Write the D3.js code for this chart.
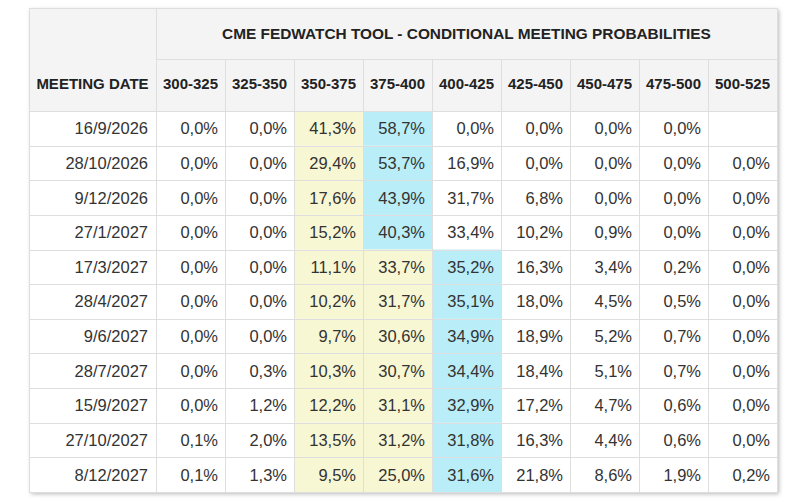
<!DOCTYPE html>
<html>
<head>
<meta charset="utf-8">
<script src="https://cdn.jsdelivr.net/npm/d3@7"></script>
<style>
  body { margin: 0; background: #fff; }
  svg { display: block; font-family: "Liberation Sans", Arial, sans-serif; }
</style>
</head>
<body>
<div id="chart"></div>
<script>
var title = "CME FEDWATCH TOOL - CONDITIONAL MEETING PROBABILITIES";
var firstHeader = "MEETING DATE";
var ranges = ["300-325", "325-350", "350-375", "375-400", "400-425", "425-450", "450-475", "475-500", "500-525"];
var dates = ["16/9/2026", "28/10/2026", "9/12/2026", "27/1/2027", "17/3/2027", "28/4/2027",
  "9/6/2027", "28/7/2027", "15/9/2027", "27/10/2027", "8/12/2027"];

// probabilities in %, one array per meeting, same order as ranges
var p_16_9_2026   = [0.0, 0.0, 41.3, 58.7, 0.0, 0.0, 0.0, 0.0, null];
var p_28_10_2026  = [0.0, 0.0, 29.4, 53.7, 16.9, 0.0, 0.0, 0.0, 0.0];
var p_9_12_2026   = [0.0, 0.0, 17.6, 43.9, 31.7, 6.8, 0.0, 0.0, 0.0];
var p_27_1_2027   = [0.0, 0.0, 15.2, 40.3, 33.4, 10.2, 0.9, 0.0, 0.0];
var p_17_3_2027   = [0.0, 0.0, 11.1, 33.7, 35.2, 16.3, 3.4, 0.2, 0.0];
var p_28_4_2027   = [0.0, 0.0, 10.2, 31.7, 35.1, 18.0, 4.5, 0.5, 0.0];
var p_9_6_2027    = [0.0, 0.0, 9.7, 30.6, 34.9, 18.9, 5.2, 0.7, 0.0];
var p_28_7_2027   = [0.0, 0.3, 10.3, 30.7, 34.4, 18.4, 5.1, 0.7, 0.0];
var p_15_9_2027   = [0.0, 1.2, 12.2, 31.1, 32.9, 17.2, 4.7, 0.6, 0.0];
var p_27_10_2027  = [0.1, 2.0, 13.5, 31.2, 31.8, 16.3, 4.4, 0.6, 0.0];
var p_8_12_2027   = [0.1, 1.3, 9.5, 25.0, 31.6, 21.8, 8.6, 1.9, 0.2];

var values = [p_16_9_2026, p_28_10_2026, p_9_12_2026, p_27_1_2027, p_17_3_2027, p_28_4_2027,
  p_9_6_2027, p_28_7_2027, p_15_9_2027, p_27_10_2027, p_8_12_2027];

// current target range (highlighted up to the most likely range)
var currentRange = "350-375";

window.onload = function()
{
	DrawTable();
}

function DrawTable()
{
	var width = 800, height = 503;
	var left = 29, right = 777, top = 8;
	var dateColRight = 156;
	var titleBottom = 59, headerBottom = 111, bottom = 492;

	var borderColor = "#dedede";
	var headBg = "#f4f4f4";
	var yellow = "#f8f7d3";
	var blue = "#b9eef8";
	var titleSize = "15.4px";
	var headSize = "15px";
	var cellSize = "16.5px";

	var x = d3.scaleBand().domain(ranges).range([dateColRight, right]);
	var y = d3.scaleBand().domain(dates).range([headerBottom, bottom]);

	var svg = d3.select("#chart").append("svg")
		.attr("width", width)
		.attr("height", height);

	var defs = svg.append("defs");
	var filter = defs.append("filter").attr("id", "shadow")
		.attr("x", "-5%").attr("y", "-5%").attr("width", "110%").attr("height", "110%");
	filter.append("feDropShadow")
		.attr("dx", 2).attr("dy", 2).attr("stdDeviation", 2)
		.attr("flood-color", "#000").attr("flood-opacity", 0.28);

	/* table background with shadow */
	svg.append("rect")
		.attr("x", left).attr("y", top)
		.attr("width", right - left).attr("height", bottom - top)
		.attr("fill", "#fff")
		.attr("filter", "url(#shadow)");

	/* header backgrounds */
	svg.append("rect")
		.attr("x", left).attr("y", top)
		.attr("width", right - left).attr("height", headerBottom - top)
		.attr("fill", headBg);

	/* cells */
	var curIdx = ranges.indexOf(currentRange);
	var rows = svg.append("g").attr("class", "rows")
		.selectAll("g")
		.data(dates).enter()
		.append("g");

	rows.each(function(d, i)
	{
		var row = values[i];
		var maxIdx = d3.maxIndex(row);
		var g = d3.select(this);

		g.selectAll("rect")
			.data(row).enter()
			.append("rect")
			.attr("x", (v, j) => x(ranges[j]))
			.attr("y", y(d))
			.attr("width", x.bandwidth())
			.attr("height", y.bandwidth())
			.attr("fill", function(v, j)
			{
				if(j == maxIdx) return blue;
				if(j >= curIdx && j < maxIdx) return yellow;
				return "#fff";
			});

		g.selectAll("text.val")
			.data(row).enter()
			.append("text")
			.attr("class", "val")
			.attr("x", (v, j) => x(ranges[j]) + x.bandwidth() - 7)
			.attr("y", y(d) + y.bandwidth() / 2)
			.attr("dy", "0.36em")
			.attr("text-anchor", "end")
			.attr("font-size", cellSize)
			.attr("fill", "#333")
			.text(v => v == null ? "" : v.toFixed(1).replace(".", ",") + "%");

		g.append("text")
			.attr("x", dateColRight - 8)
			.attr("y", y(d) + y.bandwidth() / 2)
			.attr("dy", "0.36em")
			.attr("text-anchor", "end")
			.attr("font-size", cellSize)
			.attr("fill", "#333")
			.text(d);
	});

	/* grid lines */
	var grid = svg.append("g")
		.attr("stroke", borderColor)
		.attr("stroke-width", 1.2)
		.attr("shape-rendering", "crispEdges");

	// horizontal
	var hLines = [top, titleBottom, headerBottom].concat(dates.map(d => y(d) + y.bandwidth()));
	grid.selectAll("line.h")
		.data(hLines).enter()
		.append("line")
		.attr("x1", (d, i) => i == 1 ? dateColRight : left)
		.attr("x2", right)
		.attr("y1", d => Math.round(d) + 0.5)
		.attr("y2", d => Math.round(d) + 0.5);

	// vertical
	grid.append("line")
		.attr("x1", left + 0.5).attr("x2", left + 0.5)
		.attr("y1", top).attr("y2", bottom);
	grid.append("line")
		.attr("x1", dateColRight + 0.5).attr("x2", dateColRight + 0.5)
		.attr("y1", top).attr("y2", bottom);
	grid.selectAll("line.v")
		.data(ranges).enter()
		.append("line")
		.attr("x1", d => Math.round(x(d) + x.bandwidth()) + 0.5)
		.attr("x2", d => Math.round(x(d) + x.bandwidth()) + 0.5)
		.attr("y1", (d, i) => i == ranges.length - 1 ? top : titleBottom)
		.attr("y2", bottom);

	/* title */
	svg.append("text")
		.attr("x", (dateColRight + right) / 2)
		.attr("y", (top + titleBottom) / 2)
		.attr("dy", "0.36em")
		.attr("text-anchor", "middle")
		.attr("font-size", titleSize)
		.attr("font-weight", "bold")
		.attr("fill", "#222")
		.text(title);

	/* column headers */
	var headY = (titleBottom + headerBottom) / 2 - 1.5;
	svg.append("text")
		.attr("x", (left + dateColRight) / 2)
		.attr("y", headY)
		.attr("dy", "0.36em")
		.attr("text-anchor", "middle")
		.attr("font-size", headSize)
		.attr("font-weight", "bold")
		.attr("fill", "#222")
		.text(firstHeader);

	svg.selectAll("text.head")
		.data(ranges).enter()
		.append("text")
		.attr("class", "head")
		.attr("x", d => x(d) + x.bandwidth() / 2)
		.attr("y", headY)
		.attr("dy", "0.36em")
		.attr("text-anchor", "middle")
		.attr("font-size", headSize)
		.attr("font-weight", "bold")
		.attr("fill", "#222")
		.text(d => d);
}
</script>
</body>
</html>
